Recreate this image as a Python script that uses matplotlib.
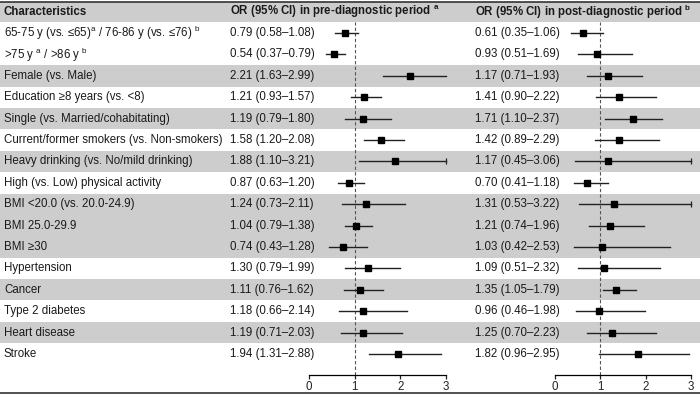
import matplotlib
matplotlib.use('Agg')
import matplotlib.pyplot as plt
import numpy as np

plt.rcParams['font.family'] = ['Liberation Sans', 'DejaVu Sans']
plt.rcParams['mathtext.fontset'] = 'custom'
plt.rcParams['mathtext.rm'] = 'Liberation Sans'
plt.rcParams['mathtext.bf'] = 'Liberation Sans:bold'

labels = ['65-75 y (vs. ≤65)$^{\\mathrm{a}}$ / 76-86 y (vs. ≤76) $^{\\mathrm{b}}$',
          '>75 y $^{\\mathrm{a}}$ / >86 y $^{\\mathrm{b}}$',
          'Female (vs. Male)',
          'Education ≥8 years (vs. <8)',
          'Single (vs. Married/cohabitating)',
          'Current/former smokers (vs. Non-smokers)',
          'Heavy drinking (vs. No/mild drinking)',
          'High (vs. Low) physical activity',
          'BMI <20.0 (vs. 20.0-24.9)',
          'BMI 25.0-29.9',
          'BMI ≥30',
          'Hypertension',
          'Cancer',
          'Type 2 diabetes',
          'Heart disease',
          'Stroke']

pre_or = [0.79, 0.54, 2.21, 1.21, 1.19, 1.58, 1.88, 0.87, 1.24, 1.04, 0.74, 1.30, 1.11, 1.18, 1.19, 1.94]
pre_lo = [0.58, 0.37, 1.63, 0.93, 0.79, 1.20, 1.10, 0.63, 0.73, 0.79, 0.43, 0.79, 0.76, 0.66, 0.71, 1.31]
pre_hi = [1.08, 0.79, 2.99, 1.57, 1.80, 2.08, 3.21, 1.20, 2.11, 1.38, 1.28, 1.99, 1.62, 2.14, 2.03, 2.88]

post_or = [0.61, 0.93, 1.17, 1.41, 1.71, 1.42, 1.17, 0.70, 1.31, 1.21, 1.03, 1.09, 1.35, 0.96, 1.25, 1.82]
post_lo = [0.35, 0.51, 0.71, 0.90, 1.10, 0.89, 0.45, 0.41, 0.53, 0.74, 0.42, 0.51, 1.05, 0.46, 0.70, 0.96]
post_hi = [1.06, 1.69, 1.93, 2.22, 2.37, 2.29, 3.06, 1.18, 3.22, 1.96, 2.53, 2.32, 1.79, 1.98, 2.23, 2.95]

shaded_rows = [2, 4, 6, 8, 9, 10, 12, 14]
ticks = [0, 1, 2, 3]

W, H = 700, 396
row0, row_h = 33, 21.4
axis_y = 375
fs = 8.3
txt_col = '#1a1a1a'
gray = '#cdcdcd'

fig = plt.figure(figsize=(W / 100, H / 100), dpi=100)
bg = fig.add_axes([0, 0, 1, 1])
bg.set_xlim(0, W)
bg.set_ylim(H, 0)
bg.axis('off')

# header band and rules
bg.fill_between([0, W], 2, 22, color=gray, lw=0)
bg.plot([0, W], [1.5, 1.5], color='#333333', lw=1.2)
bg.plot([0, W], [393, 393], color='#333333', lw=1.2)

for i in shaded_rows:
    yc = row0 + i * row_h
    bg.fill_between([0, W], yc - row_h / 2, yc + row_h / 2, color=gray, lw=0)

bg.text(4, 12, 'Characteristics', fontsize=fs, fontweight='bold', va='center', color=txt_col)
bg.text(230, 12, 'OR (95% CI) in pre-diagnostic period $^{\\mathbf{a}}$', fontsize=fs,
        fontweight='bold', va='center', color=txt_col)
bg.text(475, 12, 'OR (95% CI) in post-diagnostic period $^{\\mathbf{b}}$', fontsize=fs,
        fontweight='bold', va='center', color=txt_col)

for i, lab in enumerate(labels):
    yc = row0 + i * row_h
    bg.text(4, yc, lab, fontsize=fs, va='center', color=txt_col)
    bg.text(230, yc, f'{pre_or[i]:.2f} ({pre_lo[i]:.2f}–{pre_hi[i]:.2f})', fontsize=fs,
            va='center', color=txt_col)
    bg.text(475, yc, f'{post_or[i]:.2f} ({post_lo[i]:.2f}–{post_hi[i]:.2f})', fontsize=fs,
            va='center', color=txt_col)


def forest(x0, x1, est, lo, hi):
    ax = fig.add_axes([x0 / W, (H - axis_y) / H, (x1 - x0) / W, (axis_y - 22) / H])
    ax.patch.set_alpha(0)
    n = len(est)
    ax.set_xlim(0, 3)
    ax.set_ylim((axis_y - row0) / row_h, (22 - row0) / row_h)
    for s in ['top', 'left', 'right']:
        ax.spines[s].set_visible(False)
    ax.spines['bottom'].set_linewidth(0.9)
    ax.set_yticks([])
    ax.set_xticks(ticks)
    ax.tick_params(axis='x', length=3, width=0.9, labelsize=fs, pad=1, colors='#222222')
    ax.axvline(1, color='#555555', lw=0.8, ls=(0, (3, 2)), zorder=1)
    ys = np.arange(n)
    for y, e, l, h in zip(ys, est, lo, hi):
        hh = min(h, 3)
        ax.plot([l, hh], [y, y], color='#222222', lw=1.0, zorder=2, clip_on=False)
        if h > 3:
            ax.plot([3], [y], marker='|', color='#222222', ms=5, mew=0.9, clip_on=False)
    ax.plot(est, ys, 's', color='black', ms=4.5, zorder=3, clip_on=False)
    return ax


forest(309, 446, pre_or, pre_lo, pre_hi)
forest(555, 691, post_or, post_lo, post_hi)

fig.savefig('out.png', dpi=100)
